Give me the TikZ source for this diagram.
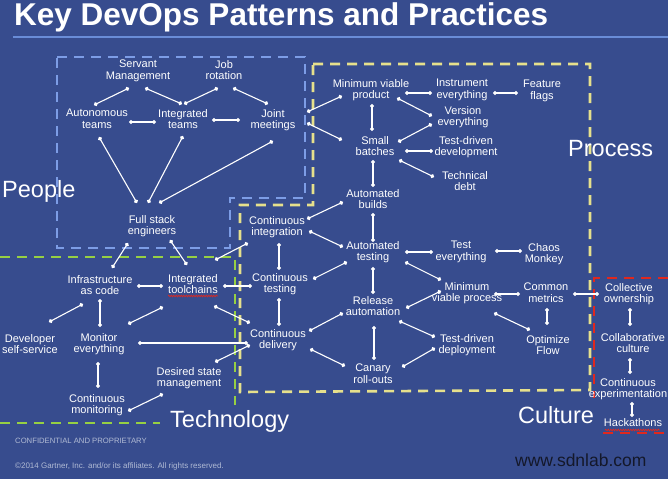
\documentclass[tikz,border=0pt]{standalone}
\usepackage{fontspec}
\setmainfont{Liberation Sans}
\usetikzlibrary{arrows.meta,calc,decorations.pathmorphing}
\definecolor{bg}{RGB}{55,76,142}
\definecolor{zblue}{RGB}{125,157,230}
\definecolor{zgreen}{RGB}{150,208,67}
\definecolor{zyellow}{RGB}{230,224,140}
\definecolor{zred}{RGB}{224,40,30}
\definecolor{rule}{RGB}{105,140,215}
\definecolor{foot}{RGB}{176,186,212}
\definecolor{mark}{RGB}{20,24,42}
\tikzset{
  lbl/.style={text=white, align=center, inner sep=0pt, font=\fontsize{11}{11.6}\selectfont},
  conn/.style={white, line width=1.1pt, {Circle[length=4pt]}-{Circle[length=4pt]}},
  zone/.style={line width=2.6pt, dash pattern=on 10pt off 7pt},
  big/.style={text=white, inner sep=0pt, anchor=base west, font=\fontsize{23.5}{26}\selectfont},
  squig/.style={zred, line width=0.7pt, decorate, decoration={snake, amplitude=0.8pt, segment length=2.5pt}},
}
\newcommand\cn[4]{\draw[conn] ($(#1)+(#2)$) -- ($(#3)+(#4)$);}
\begin{document}
\begin{tikzpicture}[x=1pt,y=-1pt]
\useasboundingbox (0,0) rectangle (668,479);
\clip (0,0) rectangle (668,479);
\fill[bg] (0,0) rectangle (668,479);

% title
\node[anchor=base west, inner sep=0pt, text=white, font=\fontsize{31.5}{34}\selectfont\bfseries] (title) at (14,25) {Key DevOps Patterns and Practices};
\draw[rule, line width=1.5pt] (13,37) -- (668,37);

% zones
\draw[zone, zblue] (57,57) -- (305,57) -- (305,198) -- (230,198) -- (230,248) -- (57,248) -- cycle;
\draw[zone, zgreen] (0,257) -- (235,257) -- (235,405);
\draw[zone, zgreen] (0,423) -- (160,423);
\draw[zone, zyellow] (313,64) -- (590,64) -- (590,390) -- (240,392) -- (240,205) -- (313,205) -- cycle;
\draw[zone, zred] (668,278) -- (594,278) -- (594,398);
\draw[zone, zred] (603,433) -- (668,433);

% zone labels
\node[big] (people) at (2,197) {People};
\node[big] (process) at (568,156) {Process};
\node[big] (technology) at (170,427) {Technology};
\node[big] (culture) at (518,423) {Culture};

% people
\node[lbl] (sm) at (138,71) {Servant\\Management};
\node[lbl] (jr) at (224,70) {Job\\rotation};
\node[lbl] (at) at (97,119) {Autonomous\\teams};
\node[lbl] (it) at (183,119) {Integrated\\teams};
\node[lbl] (jm) at (273,120) {Joint\\meetings};
\node[lbl] (fs) at (152,226) {Full stack\\engineers};

% process
\node[lbl] (mvp) at (371,90) {Minimum viable\\product};
\node[lbl] (ie) at (462,90) {Instrument\\everything};
\node[lbl] (ff) at (542,91) {Feature\\flags};
\node[lbl] (ve) at (463,117) {Version\\everything};
\node[lbl] (sb) at (375,146) {Small\\batches};
\node[lbl] (tdd) at (466,147) {Test-driven\\development};
\node[lbl] (td) at (465,181) {Technical\\debt};
\node[lbl] (ab) at (373,199) {Automated\\builds};
\node[lbl] (ci) at (277,227) {Continuous\\integration};
\node[lbl] (ate) at (373,252) {Automated\\testing};
\node[lbl] (ct) at (280,284) {Continuous\\testing};
\node[lbl] (ra) at (373,306) {Release\\automation};
\node[lbl] (cd) at (278,340) {Continuous\\delivery};
\node[lbl] (cr) at (373,374) {Canary\\roll-outs};
\node[lbl] (te) at (461,252) {Test\\everything};
\node[lbl] (cm) at (544,254) {Chaos\\Monkey};
\node[lbl] (mvpr) at (467,293) {Minimum\\viable process};
\node[lbl] (cmet) at (546,293) {Common\\metrics};
\node[lbl] (of) at (548,345) {Optimize\\Flow};
\node[lbl] (tdep) at (467,345) {Test-driven\\deployment};

% culture
\node[lbl] (co) at (629,294) {Collective\\ownership};
\node[lbl] (cc) at (633,343) {Collaborative\\culture};
\node[lbl] (ce) at (628,389) {Continuous\\experimentation};
\node[lbl] (hk) at (633,423) {Hackathons};

% technology
\node[lbl] (iac) at (100,285) {Infrastructure\\as code};
\node[lbl] (itc) at (193,284) {Integrated\\toolchains};
\node[lbl] (dss) at (30,344) {Developer\\self-service};
\node[lbl] (me) at (99,344) {Monitor\\everything};
\node[lbl] (dsm) at (189,378) {Desired state\\management};
\node[lbl] (cmo) at (97,405) {Continuous\\monitoring};

% spell-check squiggles
\draw[squig] ($(itc)+(-25,12)$) -- ($(itc)+(25,12)$);
\draw[squig] ($(hk)+(-28,7)$) -- ($(hk)+(27,7)$);

% connectors
\cn{sm}{-9,17}{at}{-3,-14}
\cn{sm}{7,17}{it}{-1,-15}
\cn{jr}{-6,18}{it}{1,-15}
\cn{jr}{9,18}{jm}{-5,-16}
\cn{at}{32,3}{it}{-27,3}
\cn{it}{29,1}{jm}{-33,0}
\cn{at}{2,18}{fs}{-15,-23}
\cn{it}{0,17}{fs}{-4,-23}
\cn{jm}{0,21}{fs}{7,-23}
\cn{jm}{34,-8}{mvp}{-29,6}
\cn{jm}{34,3}{sb}{-33,-6}
\cn{fs}{-24,17}{iac}{12,-17}
\cn{fs}{18,14}{itc}{-6,-19}
\cn{itc}{22,-24}{ci}{-29,16}
\cn{iac}{37,1}{itc}{-30,2}
\cn{itc}{30,2}{ct}{-28,2}
\cn{iac}{0,14}{me}{1,-17}
\cn{iac}{-17,19}{dss}{19,-22}
\cn{itc}{-30,23}{me}{29,-20}
\cn{itc}{21,22}{cd}{-28,-17}
\cn{me}{39,-1}{cd}{-30,3}
\cn{dsm}{26,-16}{cd}{-28,5}
\cn{me}{-1,18}{cmo}{1,-17}
\cn{cmo}{31,6}{dsm}{-26,16}
\cn{mvp}{34,3}{ie}{-30,3}
\cn{ie}{31,3}{ff}{-24,2}
\cn{mvp}{26,8}{ve}{-31,-1}
\cn{mvp}{1,14}{sb}{-3,-15}
\cn{ve}{-31,7}{sb}{23,-4}
\cn{sb}{30,5}{tdd}{-33,4}
\cn{sb}{24,14}{td}{-31,-4}
\cn{sb}{-2,14}{ab}{0,-12}
\cn{ci}{30,-8}{ab}{-30,3}
\cn{ci}{32,4}{ate}{-30,-5}
\cn{ab}{0,14}{ate}{0,-10}
\cn{ci}{2,16}{ct}{-1,-14}
\cn{ct}{33,-5}{ate}{-26,10}
\cn{ate}{0,15}{ra}{0,-12}
\cn{ct}{-1,14}{cd}{1,-14}
\cn{cd}{31,-9}{ra}{-30,7}
\cn{cd}{32,9}{cr}{-28,-8}
\cn{ra}{1,20}{cr}{1,-14}
\cn{ate}{32,0}{te}{-28,0}
\cn{ate}{32,10}{mvpr}{-26,-13}
\cn{ra}{33,2}{mvpr}{-26,-2}
\cn{ra}{26,15}{tdep}{-32,-8}
\cn{cr}{29,-7}{tdep}{-32,3}
\cn{te}{34,-1}{cm}{-22,-3}
\cn{mvpr}{27,1}{cmet}{-26,1}
\cn{cmet}{27,1}{co}{-30,0}
\cn{cmet}{1,15}{of}{-1,-20}
\cn{mvpr}{27,20}{of}{-18,-15}
\cn{co}{1,14}{cc}{-3,-17}
\cn{cc}{-3,15}{ce}{2,-15}
\cn{ce}{4,13}{hk}{-1,-6}

% footer
\node[anchor=west, inner sep=0pt, text=foot, font=\fontsize{7.7}{9}\selectfont] (conf) at (15,441) {CONFIDENTIAL AND PROPRIETARY};
\node[anchor=west, inner sep=0pt, text=foot, font=\fontsize{8}{9}\selectfont] (copy) at (15,466) {©2014 Gartner, Inc. and/or its affiliates. All rights reserved.};
\node[anchor=west, inner sep=0pt, text=mark, font=\fontsize{17.5}{20}\selectfont] (site) at (515,460) {www.sdnlab.com};
\end{tikzpicture}
\end{document}
